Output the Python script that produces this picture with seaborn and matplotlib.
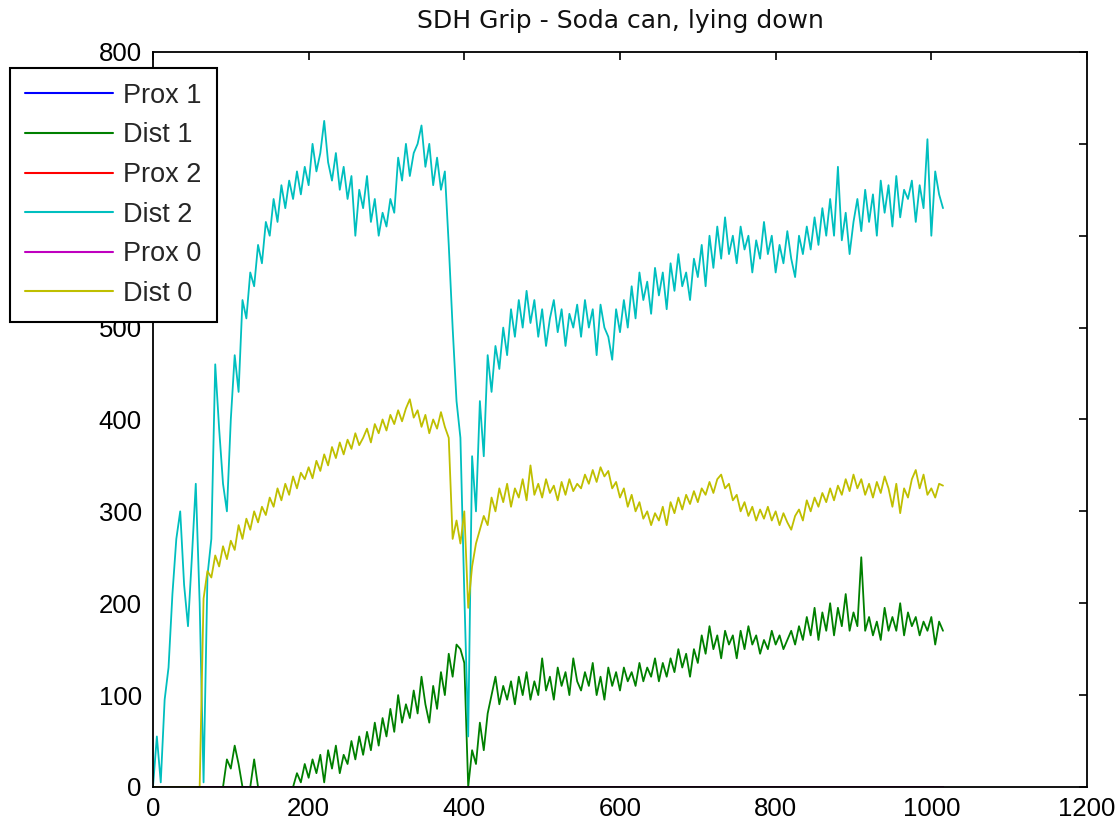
import numpy as np
import pandas as pd
import seaborn as sns
import matplotlib
matplotlib.use("Agg")
import matplotlib.pyplot as plt

# sample index (every 5th sample)
sample = np.arange(0, 1020, 5)

dist2 = [
    0, 55, 5, 95, 130, 210, 270, 300, 220, 175,
    250, 330, 200, 5, 230, 270, 460, 390, 330, 300,
    400, 470, 430, 530, 510, 560, 545, 590, 570, 615,
    600, 640, 615, 655, 630, 660, 640, 670, 645, 675,
    655, 700, 670, 690, 725, 680, 660, 690, 650, 675,
    640, 665, 600, 650, 630, 665, 615, 640, 600, 625,
    610, 640, 625, 685, 660, 700, 665, 690, 700, 720,
    675, 700, 655, 685, 650, 670, 590, 500, 420, 380,
    210, 55, 360, 300, 420, 360, 470, 430, 480, 455,
    500, 470, 520, 490, 530, 500, 540, 505, 530, 490,
    520, 480, 510, 530, 495, 520, 480, 515, 500, 525,
    490, 530, 500, 520, 470, 525, 500, 490, 465, 520,
    495, 530, 500, 545, 510, 560, 530, 550, 515, 565,
    535, 560, 520, 570, 540, 580, 545, 560, 530, 575,
    555, 590, 545, 600, 565, 610, 575, 620, 580, 600,
    570, 610, 585, 600, 560, 595, 575, 615, 580, 600,
    560, 590, 570, 605, 575, 555, 600, 580, 610, 585,
    620, 590, 630, 600, 640, 600, 675, 595, 625, 580,
    615, 640, 605, 650, 615, 645, 600, 660, 625, 655,
    610, 665, 620, 650, 640, 660, 615, 655, 630, 705,
    600, 670, 645, 630,
]

dist0 = [
    0, 0, 0, 0, 0, 0, 0, 0, 0, 0,
    0, 0, 0, 205, 235, 228, 252, 240, 262, 248,
    268, 258, 285, 270, 292, 280, 300, 288, 305, 296,
    315, 305, 325, 312, 330, 318, 338, 325, 342, 335,
    348, 336, 355, 344, 362, 350, 370, 358, 375, 362,
    378, 368, 385, 372, 380, 390, 375, 395, 385, 400,
    388, 405, 395, 410, 398, 412, 422, 402, 410, 392,
    405, 385, 400, 390, 408, 392, 380, 270, 290, 265,
    300, 195, 240, 265, 280, 295, 285, 315, 300, 325,
    310, 330, 305, 325, 315, 335, 312, 350, 318, 330,
    315, 335, 320, 328, 312, 332, 318, 335, 322, 330,
    325, 340, 330, 345, 332, 348, 338, 344, 325, 332,
    315, 325, 305, 318, 300, 310, 292, 300, 285, 298,
    290, 305, 285, 310, 298, 315, 302, 318, 308, 322,
    310, 325, 318, 332, 320, 335, 340, 325, 330, 312,
    318, 300, 310, 295, 305, 290, 302, 292, 305, 290,
    300, 285, 298, 288, 280, 295, 302, 290, 312, 300,
    315, 305, 320, 310, 325, 312, 328, 318, 335, 322,
    340, 325, 335, 318, 330, 315, 332, 320, 338, 325,
    305, 330, 298, 325, 315, 335, 345, 325, 340, 318,
    325, 315, 330, 328,
]

dist1 = [
    0, 0, 0, 0, 0, 0, 0, 0, 0, 0,
    0, 0, 0, 0, 0, 0, 0, 0, 0, 30,
    20, 45, 25, 0, 0, 0, 30, 0, 0, 0,
    0, 0, 0, 0, 0, 0, 0, 15, 5, 25,
    10, 30, 15, 35, 5, 40, 20, 45, 15, 35,
    25, 50, 30, 55, 35, 60, 40, 70, 45, 75,
    55, 85, 60, 100, 70, 90, 75, 105, 80, 120,
    90, 70, 110, 85, 125, 100, 145, 120, 155, 150,
    135, 0, 40, 25, 70, 40, 80, 100, 120, 90,
    110, 95, 115, 90, 120, 100, 125, 95, 115, 100,
    140, 105, 120, 95, 130, 110, 125, 100, 140, 115,
    105, 125, 110, 135, 100, 120, 95, 130, 110, 125,
    105, 130, 115, 125, 110, 135, 115, 130, 120, 140,
    115, 135, 120, 140, 125, 150, 130, 145, 120, 150,
    135, 165, 145, 175, 150, 165, 140, 170, 155, 165,
    140, 170, 150, 175, 155, 165, 145, 160, 150, 170,
    155, 165, 150, 160, 170, 155, 175, 160, 185, 165,
    195, 160, 190, 170, 200, 165, 195, 175, 210, 170,
    190, 175, 250, 170, 185, 165, 180, 160, 195, 170,
    185, 170, 200, 165, 190, 175, 185, 165, 180, 170,
    185, 155, 180, 170,
]

# proximal sensors stay at zero the whole time
prox1 = [0] * len(sample)
prox2 = [0] * len(sample)
prox0 = [0] * len(sample)

labels = ["Prox 1", "Dist 1", "Prox 2", "Dist 2", "Prox 0", "Dist 0"]
colors = ["#0000ff", "#008000", "#ff0000", "#00bfbf", "#bf00bf", "#bfbf00"]

df = pd.DataFrame({"sample": sample,
                   "Prox 1": prox1, "Dist 1": dist1,
                   "Prox 2": prox2, "Dist 2": dist2,
                   "Prox 0": prox0, "Dist 0": dist0})
long_df = df.melt(id_vars="sample", var_name="sensor", value_name="value")

sns.set_style("white")
plt.rcParams["font.family"] = ["Liberation Sans", "DejaVu Sans"]

fig = plt.figure(figsize=(11.19, 8.25), dpi=100)
ax = fig.add_axes([0.1367, 0.0461, 0.8347, 0.8909])

sns.lineplot(data=long_df, x="sample", y="value", hue="sensor",
             hue_order=labels, palette=colors, estimator=None,
             linewidth=1.3, ax=ax)

handles, labs = ax.get_legend_handles_labels()
ax.get_legend().remove()

ax.set_xlim(0, 1200)
ax.set_ylim(0, 800)
ax.set_xticks(range(0, 1201, 200))
ax.set_yticks(range(0, 801, 100))
ax.set_xlabel("")
ax.set_ylabel("")
ax.tick_params(direction="in", length=6, width=1.2, top=True, right=True,
               labelsize=18.5, colors="black")
ax.tick_params(axis="x", pad=7)
ax.tick_params(axis="y", pad=8)
for sp in ax.spines.values():
    sp.set_visible(True)
    sp.set_color("black")
    sp.set_linewidth(1.3)
    sp.set_zorder(5)
ax.set_title("SDH Grip - Soda can, lying down", fontsize=18,
             family="DejaVu Sans", color="#111111", pad=17)

leg = fig.legend(handles, labs, loc="upper left",
                 bbox_to_anchor=(10 / 1119, 1 - 68 / 825),
                 fontsize=19.5, handlelength=3.26, labelspacing=0.5,
                 borderpad=0.55, handletextpad=0.37, fancybox=False,
                 framealpha=1, edgecolor="black", borderaxespad=0)
leg.get_frame().set_linewidth(1.5)
for ln in leg.get_lines():
    ln.set_linewidth(1.5)

fig.savefig("out.png", dpi=100)
